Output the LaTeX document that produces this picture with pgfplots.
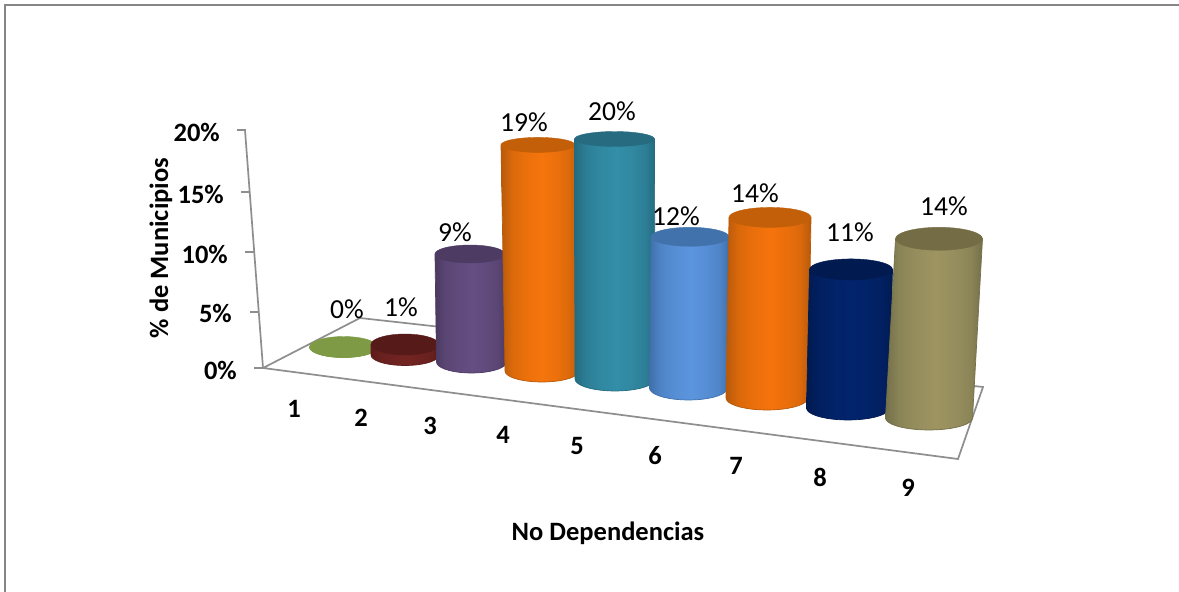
\documentclass[border=0pt]{standalone}
\usepackage{fontspec}
\setmainfont{Carlito}
\usepackage{pgfplots}
\usepackage{pgfplotstable}
\pgfplotsset{compat=1.18}

% n, percent value, base centre x, top centre x, base centre y, px per percent, radius, top/bottom ellipse half-heights
\pgfplotstableread{
n value cxb cxt base k rx ryt ryb
1 0  343.5 343.5 347 11.7 34 10.5 10.5
2 1  405   405   355 10.5 34 10.5 10.5
3 9  471.5 470   362 12.0 35 9    11
4 19 542   538   371 11.9 37 7.5  11
5 20 615   614.5 379 12.0 40 7.5  12
6 12 688.5 690   388 12.6 39 9.5  12
7 14 767   770   398 12.9 41 10   12
8 11 848   851   408 12.6 41.5 10.5 12
9 14 929   939   418 12.8 43.5 11.5 12
}\cylinders

\definecolor{frameline}{HTML}{868686}
\definecolor{wallline}{HTML}{8E8E8E}

% Horizontal cylinder shading: dark edge, bright middle, dark edge
\newcommand\cylshade[4]{%
  \definecolor{top#1}{HTML}{#4}%
  \definecolor{e#1}{HTML}{#2}\definecolor{m#1}{HTML}{#3}%
  \colorlet{q#1}{m#1!55!e#1}%
  \colorlet{r#1}{m#1!82!e#1}%
  \pgfdeclarehorizontalshading{cyl#1}{100bp}{%
    color(0bp)=(e#1); color(25bp)=(e#1); color(32bp)=(q#1); color(41bp)=(r#1);
    color(51bp)=(m#1); color(61bp)=(r#1); color(69bp)=(q#1); color(75bp)=(e#1); color(100bp)=(e#1)}%
}
\cylshade{1}{7E9A45}{7E9A45}{7E9A45}
\cylshade{2}{5C1C1A}{722422}{561B19}
\cylshade{3}{4C3A61}{654E82}{4D3B63}
\cylshade{4}{B85A0A}{F6750C}{C25F08}
\cylshade{5}{246B7F}{338EA8}{266B80}
\cylshade{6}{4070AB}{5B95DE}{4272AC}
\cylshade{7}{B85A0A}{F5730C}{C25F08}
\cylshade{8}{011B50}{02246E}{011A4F}
\cylshade{9}{74704A}{9D9461}{746C45}

\newcommand\txt{\fontsize{27.5}{32}\selectfont}
\newcommand\bld{\fontsize{26.5}{32}\selectfont\bfseries}

\begin{document}
\begin{tikzpicture}
\path[use as bounding box, fill=white] (0,0) rectangle (1179pt,592pt);
\begin{axis}[
  at={(0,0)}, anchor=south west,
  width=1179pt, height=592pt, scale only axis,
  xmin=0, xmax=1179, ymin=0, ymax=592, y dir=reverse,
  hide axis, clip=false, no markers,
]
% outer frame of the chart area
\addplot[frameline, line width=2pt] coordinates {(5,592) (5,5) (1179,5)};

% back wall axis with its ticks
\addplot[wallline, line width=1.7pt] coordinates {(237,130) (245,130) (263,368)};
\addplot[wallline, line width=1.7pt] coordinates {(241,192) (250,192)};
\addplot[wallline, line width=1.7pt] coordinates {(245,252) (254,252)};
\addplot[wallline, line width=1.7pt] coordinates {(250,312) (258,312)};
\addplot[wallline, line width=1.7pt] coordinates {(254,368) (263,368)};
% floor outline
\addplot[wallline, line width=1.7pt] coordinates {(263,368) (360,318) (983,387) (958,459) (263,368)};

% one cylinder per row of the table, left to right so that later ones overlap earlier ones
\pgfplotsforeachungrouped \row in {0,...,8}{
  \pgfplotstablegetelem{\row}{n}\of\cylinders \let\cn\pgfplotsretval
  \pgfplotstablegetelem{\row}{value}\of\cylinders \let\cval\pgfplotsretval
  \pgfplotstablegetelem{\row}{cxb}\of\cylinders \let\cxb\pgfplotsretval
  \pgfplotstablegetelem{\row}{cxt}\of\cylinders \let\cxt\pgfplotsretval
  \pgfplotstablegetelem{\row}{base}\of\cylinders \let\cbase\pgfplotsretval
  \pgfplotstablegetelem{\row}{k}\of\cylinders \let\ck\pgfplotsretval
  \pgfplotstablegetelem{\row}{rx}\of\cylinders \let\crx\pgfplotsretval
  \pgfplotstablegetelem{\row}{ryt}\of\cylinders \let\cryt\pgfplotsretval
  \pgfplotstablegetelem{\row}{ryb}\of\cylinders \let\cryb\pgfplotsretval
  \pgfmathsetmacro\ctop{\cbase-\cval*\ck}
  % side wall outline: lower arc, then straight up to the top rim
  \gdef\outline{}
  \pgfplotsforeachungrouped \a in {0,10,...,180}{
    \pgfmathsetmacro\px{\cxb+\crx*cos(\a)}
    \pgfmathsetmacro\py{\cbase+\cryb*sin(\a)}
    \xdef\outline{\outline (\px,\py)}
  }
  \pgfmathsetmacro\pl{\cxt-\crx}
  \pgfmathsetmacro\pr{\cxt+\crx}
  \xdef\outline{\outline (\pl,\ctop) (\pr,\ctop)}
  % the thin stroke in the edge colour keeps the slanted sides smooth
  \edef\drawbody{\noexpand\addplot[draw=e\cn, line width=0.7pt, shade, shading=cyl\cn] coordinates {\outline} -- cycle;}
  \drawbody
  % top cap
  \gdef\outline{}
  \pgfplotsforeachungrouped \a in {0,10,...,350}{
    \pgfmathsetmacro\px{\cxt+\crx*cos(\a)}
    \pgfmathsetmacro\py{\ctop+\cryt*sin(\a)}
    \xdef\outline{\outline (\px,\py)}
  }
  \edef\drawcap{\noexpand\addplot[draw=top\cn, line width=0.4pt, fill=top\cn] coordinates {\outline} -- cycle;}
  \drawcap
}

% value labels
\node[font=\txt] at (axis cs:347,309) {0\%};
\node[font=\txt] at (axis cs:401,307) {1\%};
\node[font=\txt] at (axis cs:455,232) {9\%};
\node[font=\txt] at (axis cs:524,122) {19\%};
\node[font=\txt] at (axis cs:612,111) {20\%};
\node[font=\txt] at (axis cs:676,216) {12\%};
\node[font=\txt] at (axis cs:755,193) {14\%};
\node[font=\txt] at (axis cs:850,232) {11\%};
\node[font=\txt] at (axis cs:944,206) {14\%};

% percent scale on the wall
\node[font=\bld, anchor=east, inner sep=0pt] at (axis cs:220,132) {20\%};
\node[font=\bld, anchor=east, inner sep=0pt] at (axis cs:224,194) {15\%};
\node[font=\bld, anchor=east, inner sep=0pt] at (axis cs:228,254) {10\%};
\node[font=\bld, anchor=east, inner sep=0pt] at (axis cs:232,313) {5\%};
\node[font=\bld, anchor=east, inner sep=0pt] at (axis cs:237,370) {0\%};

% category numbers along the front edge
\node[font=\bld] at (axis cs:294,409) {1};
\node[font=\bld] at (axis cs:361,418) {2};
\node[font=\bld] at (axis cs:430,426) {3};
\node[font=\bld] at (axis cs:503,435) {4};
\node[font=\bld] at (axis cs:577,446) {5};
\node[font=\bld] at (axis cs:655,456) {6};
\node[font=\bld] at (axis cs:736,466) {7};
\node[font=\bld] at (axis cs:820,477) {8};
\node[font=\bld] at (axis cs:908,488) {9};

% axis titles
\node[font=\bld] at (axis cs:608,533) {No Dependencias};
\node[font=\bld, rotate=90] at (axis cs:161,248) {\% de Municipios};
\end{axis}
\end{tikzpicture}
\end{document}
